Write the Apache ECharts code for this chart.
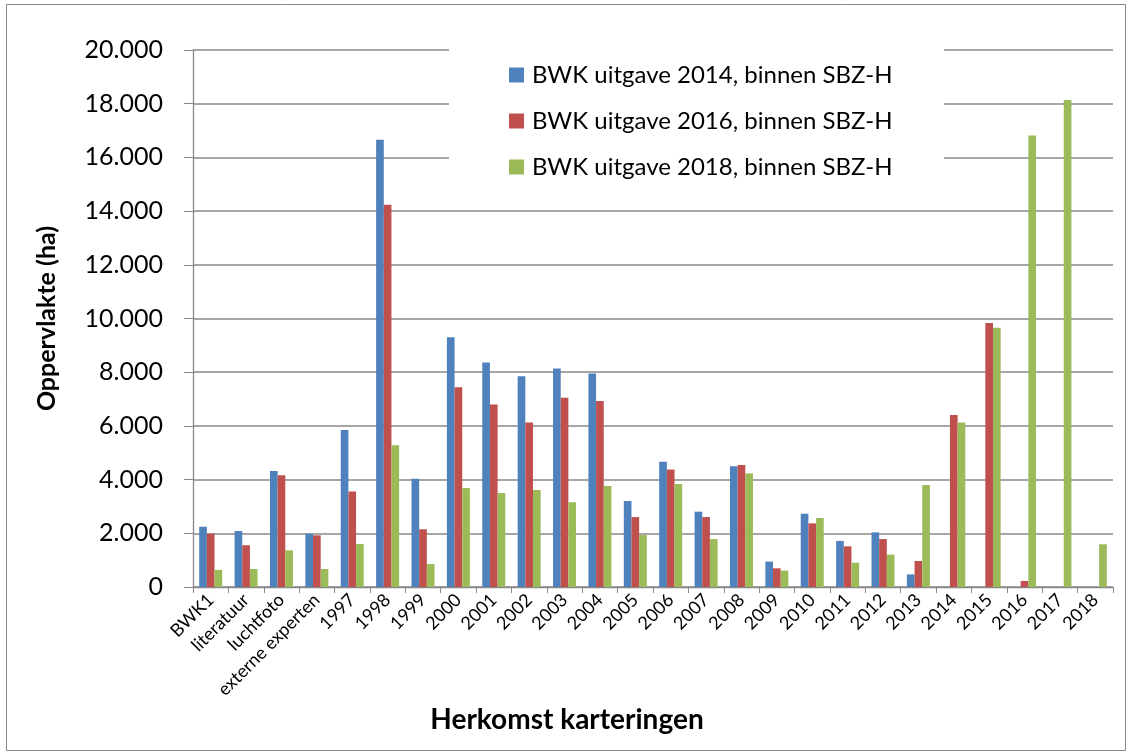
<!DOCTYPE html>
<html>
<head>
<meta charset="utf-8">
<script src="https://cdn.jsdelivr.net/npm/echarts@6/dist/echarts.min.js"></script>
<style>
  html, body { margin: 0; padding: 0; background: #fff; }
  #chart { width: 1131px; height: 756px; }
</style>
</head>
<body>
<div id="chart"></div>
<script>
const categories = ['BWK1', 'literatuur', 'luchtfoto', 'externe experten', '1997', '1998', '1999', '2000', '2001', '2002', '2003', '2004', '2005', '2006', '2007', '2008', '2009', '2010', '2011', '2012', '2013', '2014', '2015', '2016', '2017', '2018']
const seriesNames = ['BWK uitgave 2014, binnen SBZ-H', 'BWK uitgave 2016, binnen SBZ-H', 'BWK uitgave 2018, binnen SBZ-H']
const bwk2014 = [2245, 2085, 4320, 1985, 5845, 16660, 4035, 9300, 8360, 7850, 8135, 7950, 3200, 4665, 2805, 4495, 945, 2730, 1715, 2035, 470, 0, 0, 0, 0, 0]
const bwk2016 = [1985, 1555, 4160, 1925, 3560, 14240, 2150, 7435, 6800, 6130, 7050, 6925, 2605, 4380, 2605, 4545, 695, 2370, 1515, 1785, 968, 6405, 9830, 225, 0, 0]
const bwk2018 = [635, 670, 1365, 670, 1600, 5275, 855, 3685, 3500, 3610, 3155, 3760, 1935, 3835, 1785, 4230, 610, 2570, 905, 1205, 3800, 6130, 9655, 16820, 18135, 1590]
const colors = ['#4F81BD', '#C0504D', '#9BBB59']

const font = 'Lato, "Open Sans", sans-serif'
const chart = echarts.init(document.getElementById('chart'))

const option = {
    animation: false,
    color: colors,
    textStyle: { fontFamily: font, color: '#000' },
    graphic: [
        { type: 'rect', z: 0, shape: { x: 6.5, y: 4.5, width: 1119, height: 746 }, style: { fill: 'none', stroke: '#888', lineWidth: 1 } },
        // white box behind the legend, hides the gridlines like in the original
        { type: 'rect', z: 3, shape: { x: 449, y: 48, width: 495, height: 160 }, style: { fill: '#fff' } }
    ],
    legend: {
        orient: 'vertical',
        left: 509,
        top: 63,
        padding: 0,
        itemWidth: 15,
        itemHeight: 15,
        itemGap: 22,
        icon: 'rect',
        textStyle: { fontSize: 24, fontFamily: font, color: '#000', padding: [0, 0, 0, 3] },
        data: seriesNames
    },
    grid: { left: 193, right: 18, top: 50, bottom: 169 },
    xAxis: {
        type: 'category',
        data: categories,
        name: 'Herkomst karteringen',
        nameLocation: 'middle',
        nameGap: 115,
        nameTextStyle: { fontSize: 28, fontWeight: 'bold', fontFamily: font, color: '#000', padding: [0, 172, 0, 0] },
        axisLine: { lineStyle: { color: '#888', width: 1.3 } },
        axisTick: { show: true, length: 6, lineStyle: { color: '#888' } },
        axisLabel: { rotate: 45, fontSize: 18, margin: 10, color: '#000', interval: 0 }
    },
    yAxis: {
        type: 'value',
        min: 0,
        max: 20000,
        interval: 2000,
        name: 'Oppervlakte (ha)',
        nameLocation: 'middle',
        nameGap: 134,
        nameTextStyle: { fontSize: 25, fontWeight: 'bold', fontFamily: font, color: '#000' },
        axisLine: { show: true, lineStyle: { color: '#888', width: 1.3 } },
        axisTick: { show: true, length: 9, lineStyle: { color: '#888' } },
        axisLabel: {
            fontSize: 25, margin: 30, color: '#000',
            formatter: v => v === 0 ? '0' : (v / 1000) + '.000'
        },
        splitLine: { lineStyle: { color: '#888', width: 1.5 } }
    },
    series: [
        { name: seriesNames[0], type: 'bar', data: bwk2014, barGap: '0%', barCategoryGap: '35%' },
        { name: seriesNames[1], type: 'bar', data: bwk2016, barGap: '0%', barCategoryGap: '35%' },
        { name: seriesNames[2], type: 'bar', data: bwk2018, barGap: '0%', barCategoryGap: '35%' }
    ]
}
chart.setOption(option)
</script>
</body>
</html>
